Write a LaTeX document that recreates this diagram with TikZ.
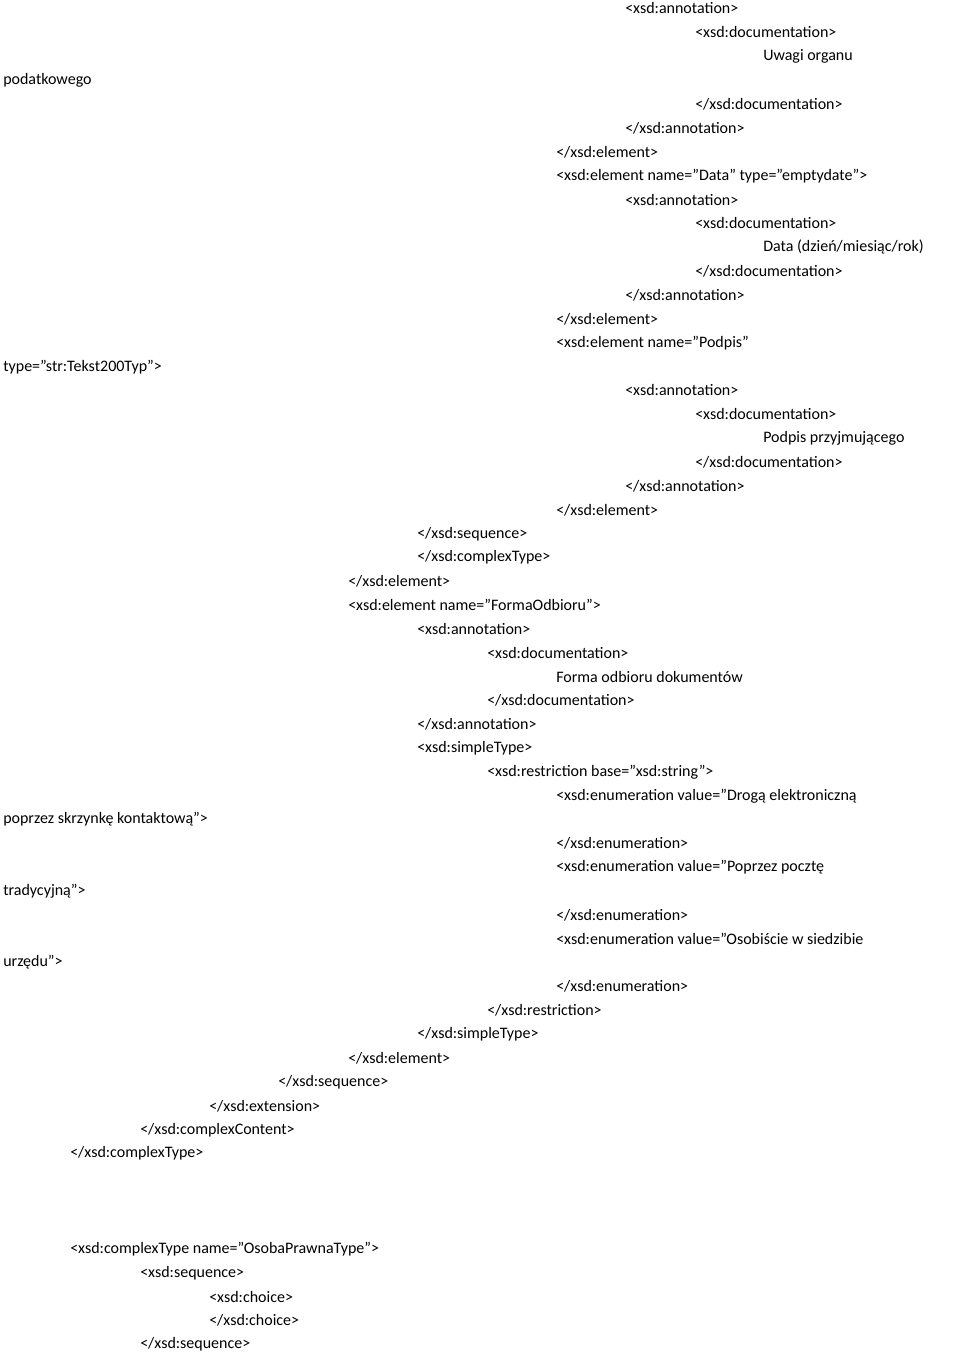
\documentclass[tikz,border=0pt]{standalone}
\usepackage{fontspec}
\setmainfont{Carlito}
\begin{document}
\begin{tikzpicture}[x=0.75pt,y=-0.75pt,
  t/.style={anchor=west,inner sep=0pt,font=\fontsize{12pt}{14pt}\selectfont}]
\useasboundingbox (0,0) rectangle (960,1354);
\foreach \x/\y/\s [count=\i] in {
625/8/{<xsd:annotation>},
695/32/{<xsd:documentation>},
763/56/{Uwagi organu},
3/80/{podatkowego},
695/104/{</xsd:documentation>},
625/128/{</xsd:annotation>},
556/152/{</xsd:element>},
556/176/{<xsd:element name="Data" type="emptydate">},
625/200/{<xsd:annotation>},
695/223/{<xsd:documentation>},
763/247/{Data (dzień/miesiąc/rok)},
695/271/{</xsd:documentation>},
625/295/{</xsd:annotation>},
556/319/{</xsd:element>},
556/343/{<xsd:element name="Podpis"},
3/367/{type="str:Tekst200Typ">},
625/390/{<xsd:annotation>},
695/414/{<xsd:documentation>},
763/438/{Podpis przyjmującego},
695/462/{</xsd:documentation>},
625/486/{</xsd:annotation>},
556/510/{</xsd:element>},
417/534/{</xsd:sequence>},
417/557/{</xsd:complexType>},
348/581/{</xsd:element>},
348/605/{<xsd:element name="FormaOdbioru">},
417/629/{<xsd:annotation>},
487/653/{<xsd:documentation>},
556/677/{Forma odbioru dokumentów},
487/700/{</xsd:documentation>},
417/724/{</xsd:annotation>},
417/748/{<xsd:simpleType>},
487/772/{<xsd:restriction base="xsd:string">},
556/796/{<xsd:enumeration value="Drogą elektroniczną},
3/819/{poprzez skrzynkę kontaktową">},
556/843/{</xsd:enumeration>},
556/867/{<xsd:enumeration value="Poprzez pocztę},
3/891/{tradycyjną">},
556/915/{</xsd:enumeration>},
556/939/{<xsd:enumeration value="Osobiście w siedzibie},
3/962/{urzędu">},
556/986/{</xsd:enumeration>},
487/1010/{</xsd:restriction>},
417/1034/{</xsd:simpleType>},
348/1058/{</xsd:element>},
278/1082/{</xsd:sequence>},
209/1106/{</xsd:extension>},
140/1130/{</xsd:complexContent>},
70/1153/{</xsd:complexType>},
70/1249/{<xsd:complexType name="OsobaPrawnaType">},
140/1273/{<xsd:sequence>},
209/1297/{<xsd:choice>},
209/1320/{</xsd:choice>},
140/1344/{</xsd:sequence>}}
{\node[t] (l\i) at (\x,\y) {\s};}
\end{tikzpicture}
\end{document}
